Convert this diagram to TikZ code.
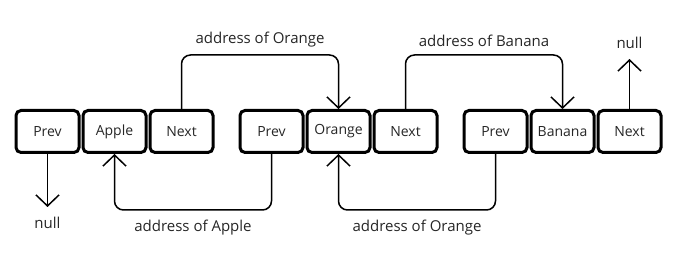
\documentclass[tikz,border=0pt]{standalone}
\usepackage{fontspec}
\setmainfont{Open Sans}
\usetikzlibrary{arrows.meta, positioning}

\begin{document}
\begin{tikzpicture}[
    x=1pt, y=1pt,
    node distance=1pt,
    cell/.style={draw, line width=3pt, rounded corners=5pt, minimum width=63pt,
                 minimum height=42pt, text=black!85, font=\fontsize{14}{17}\selectfont},
    lbl/.style={text=black!85, font=\fontsize{15}{18}\selectfont},
    nullnode/.style={lbl, inner ysep=10pt},
    arr/.style={-{Straight Barb[length=11pt, width=23pt]}, line width=1.5pt, rounded corners=9pt}
]
\useasboundingbox (0,0) rectangle (690,272);
% Node 1
\node[cell] (p1) at (47.5,140.5) {Prev};
\node[cell, right=of p1] (apple) {Apple};
\node[cell, right=of apple] (n1) {Next};
% Node 2
\node[cell, right=24pt of n1] (p2) {Prev};
\node[cell, right=of p2] (orange) {Orange};
\node[cell, right=of orange] (n2) {Next};
% Node 3
\node[cell, right=24pt of n2] (p3) {Prev};
\node[cell, right=of p3] (banana) {Banana};
\node[cell, right=of banana] (n3) {Next};
% null ends
\node[nullnode, below=53pt of p1] (null1) {null};
\node[nullnode, above=50pt of n3] (null3) {null};

\draw[arr] (p1) -- (null1);
\draw[arr] (n3) -- (null3);
% next pointers
\draw[arr] (n1.north) -- ++(0,54) -| node[lbl, pos=0.25, above=4pt] {address of Orange} (orange.north);
\draw[arr] (n2.north) -- ++(0,54) -| node[lbl, pos=0.25, above=4pt] {address of Banana} (banana.north);
% prev pointers
\draw[arr] (p2.south) -- ++(0,-56) -| node[lbl, pos=0.25, below=6pt] {address of Apple} (apple.south);
\draw[arr] (p3.south) -- ++(0,-56) -| node[lbl, pos=0.25, below=6pt] {address of Orange} (orange.south);
\end{tikzpicture}
\end{document}
